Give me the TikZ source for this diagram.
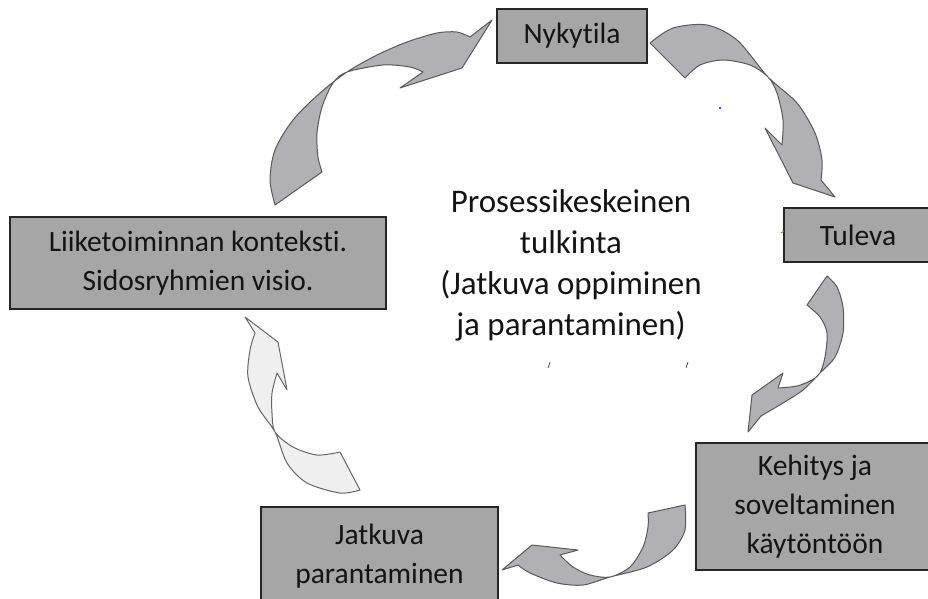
\documentclass[tikz,border=0pt]{standalone}
\usepackage{fontspec}
\setmainfont[Ligatures=NoCommon]{Carlito}
\definecolor{boxgray}{HTML}{A6A6A6}
\definecolor{ribgray}{HTML}{B1B1B5}
\definecolor{riblight}{HTML}{EFEFEF}
\definecolor{txt}{HTML}{141414}
\begin{document}
\begin{tikzpicture}[x=1pt,y=-1pt,
  stepbox/.style={draw=black!85, line width=1.4pt, fill=boxgray, text=txt,
    align=center, inner sep=0pt, font=\fontsize{29.5}{39}\selectfont},
  ribbon/.style={draw=black!65, line width=1pt, fill=ribgray, line join=round},
  ribbonlight/.style={ribbon, draw=black!60, fill=riblight},
  centertext/.style={align=center, text=txt, font=\fontsize{33}{41}\selectfont}]
\useasboundingbox (0,0) rectangle (928,598);
\clip (0,0) rectangle (928,598);

% boxes
\node[stepbox, minimum width=150, minimum height=54] (ny) at (572,36) {Nykytila};
\node[stepbox, minimum width=148, minimum height=54] (tu) at (858,235) {Tuleva};
\node[stepbox, minimum width=376, minimum height=92] (li) at (198,263) {Liiketoiminnan konteksti.\\Sidosryhmien visio.};
\node[stepbox, minimum width=238, minimum height=127] (ke) at (815,506.5) {Kehitys ja\\soveltaminen\\käytöntöön};
\node[stepbox, minimum width=237, minimum height=98] (ja) at (379.5,556) {Jatkuva\\parantaminen};
\node[centertext] (ce) at (571,265) {Prosessikeskeinen\\tulkinta\\(Jatkuva oppiminen\\ja parantaminen)};

% arrow 1: context -> Nykytila
\filldraw[ribbon] (275,205) -- plot[smooth] coordinates {(275,205) (270,180) (275,150) (293,120) (320,93) (347,72) (377,55) (407,42) (437,33) (457,32) (470,37)}
  -- (492,20) -- (462,68) -- (400,88) -- (423,72)
  -- plot[smooth] coordinates {(423,72) (410,67) (383,65) (347,72) (333,83) (322,107) (317,133) (318,157) (322,172)} -- cycle;

% arrow 2: Nykytila -> Tuleva
\filldraw[ribbon] (650,43) -- plot[smooth] coordinates {(650,43) (673,28) (707,25) (737,40) (768,77) (797,103) (815,133) (822,160) (821,180)}
  -- (835,197) -- (793,183) -- (765,128) -- (782,145)
  -- plot[smooth] coordinates {(782,145) (783,120) (777,93) (768,77) (750,65) (723,60) (700,65) (685,78)} -- cycle;

% arrow 3: Tuleva -> Kehitys
\filldraw[ribbon] (827,276) -- plot[smooth] coordinates {(827,276) (837,287) (843,307) (843,333) (835,357) (820,373) (803,390) (783,403) (761,416)}
  -- (748,432) -- (752,395) -- (783,373) -- (778,388)
  -- plot[smooth] coordinates {(778,388) (797,386) (812,380) (820,373) (825,357) (827,333) (820,317) (807,305)} -- cycle;

% arrow 4: Kehitys -> Jatkuva
\filldraw[ribbon] (685,505) -- plot[smooth] coordinates {(685,505) (685,530) (673,550) (647,567) (610,577) (583,585) (557,583) (530,573) (518,565)}
  -- (502,570) -- (532,545) -- (578,550) -- (560,555)
  -- plot[smooth] coordinates {(560,555) (573,567) (590,575) (610,577) (630,567) (643,547) (648,527) (648,513)} -- cycle;

% arrow 5: Jatkuva -> context
\filldraw[ribbonlight] (360,490) -- plot[smooth] coordinates {(360,490) (340,493) (307,483) (287,463) (275,432) (258,407) (248,377) (250,350) (255,333)}
  -- (245,317) -- (278,342) -- (287,390) -- (277,373)
  -- plot[smooth] coordinates {(277,373) (272,393) (272,413) (275,432) (293,447) (317,455) (340,452)} -- cycle;

% small stray marks
\fill[blue] (720,108) circle (1.2);
\draw[black!70, line width=0.8pt] (548,368) -- (550,362);
\draw[black!70, line width=0.8pt] (686,368) -- (688,362);
\draw[orange!70!black, line width=0.8pt] (781,233) -- (784,231);
\end{tikzpicture}
\end{document}
